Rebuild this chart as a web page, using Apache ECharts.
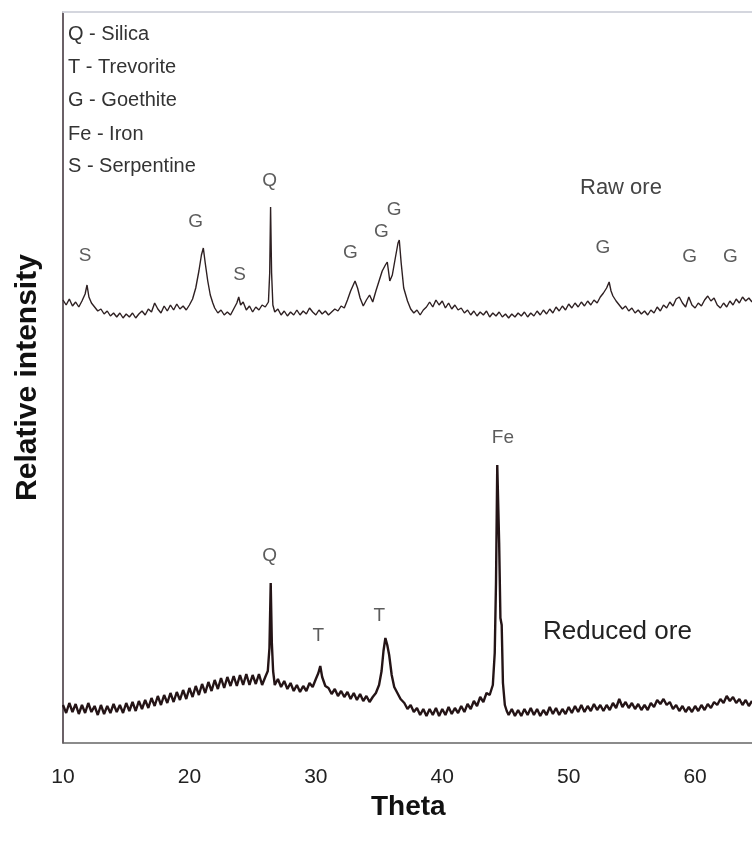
<!DOCTYPE html>
<html>
<head>
<meta charset="utf-8">
<script src="https://cdn.jsdelivr.net/npm/echarts@6/dist/echarts.min.js"></script>
<style>
  html, body { margin: 0; padding: 0; background: #fff; }
  #chart { width: 752px; height: 852px; }
</style>
</head>
<body>
<div id="chart"></div>
<script>
// XRD patterns, [theta, relative intensity]
var rawOre = [
  [10.0,443],[10.25,438],[10.5,444],[10.75,437],[11.0,441],[11.25,436],[11.5,442],[11.75,449],[11.9,458],[12.05,446],
  [12.25,440],[12.5,436],[12.75,432],[13.0,434],[13.25,429],[13.5,432],[13.75,427],[14.0,430],[14.25,426],[14.5,430],
  [14.75,425],[15.0,429],[15.25,426],[15.5,430],[15.75,425],[16.0,429],[16.25,432],[16.5,428],[16.75,434],[17.0,431],
  [17.25,440],[17.5,434],[17.75,430],[18.0,437],[18.25,432],[18.5,438],[18.75,433],[19.0,439],[19.25,434],[19.5,437],
  [19.75,433],[20.0,438],[20.25,444],[20.5,455],[20.75,472],[20.95,488],[21.1,495],[21.25,480],[21.45,462],[21.65,448],
  [21.85,440],[22.0,435],[22.25,430],[22.5,433],[22.75,428],[23.0,431],[23.25,428],[23.5,434],[23.75,440],[23.9,446],
  [24.05,438],[24.25,441],[24.5,433],[24.75,437],[25.0,431],[25.25,436],[25.5,433],[25.75,438],[26.0,436],[26.25,441],
  [26.35,470],[26.42,536],[26.5,470],[26.6,438],[26.75,431],[27.0,434],[27.25,428],[27.5,432],[27.75,427],[28.0,431],
  [28.25,428],[28.5,433],[28.75,428],[29.0,432],[29.25,429],[29.5,435],[29.75,431],[30.0,428],[30.25,433],[30.5,429],
  [30.75,432],[31.0,428],[31.25,431],[31.5,434],[31.75,432],[32.0,437],[32.25,435],[32.5,443],[32.75,452],[33.1,462],
  [33.3,455],[33.5,445],[33.75,437],[34.0,443],[34.25,448],[34.5,441],[34.75,452],[35.0,462],[35.25,472],[35.5,478],
  [35.65,481],[35.85,462],[36.05,468],[36.3,486],[36.5,500],[36.6,503],[36.75,480],[36.95,455],[37.25,442],[37.5,434],
  [37.75,430],[38.0,433],[38.25,428],[38.5,433],[38.75,436],[39.0,441],[39.25,436],[39.5,443],[39.75,438],[40.0,442],
  [40.25,435],[40.5,440],[40.75,434],[41.0,438],[41.25,433],[41.5,435],[41.75,430],[42.0,433],[42.25,428],[42.5,432],
  [42.75,427],[43.0,431],[43.25,428],[43.5,432],[43.75,426],[44.0,430],[44.25,427],[44.5,431],[44.75,426],[45.0,429],
  [45.25,425],[45.5,429],[45.75,426],[46.0,430],[46.25,427],[46.5,431],[46.75,426],[47.0,430],[47.25,427],[47.5,432],
  [47.75,428],[48.0,433],[48.25,429],[48.5,434],[48.75,430],[49.0,436],[49.25,432],[49.5,437],[49.75,433],[50.0,439],
  [50.25,435],[50.5,440],[50.75,436],[51.0,441],[51.25,437],[51.5,442],[51.75,438],[52.0,443],[52.25,440],[52.5,446],
  [52.75,450],[53.0,455],[53.2,461],[53.35,452],[53.5,447],[53.75,442],[54.0,438],[54.25,434],[54.5,437],[54.75,432],
  [55.0,435],[55.25,430],[55.5,433],[55.75,429],[56.0,432],[56.25,428],[56.5,433],[56.75,430],[57.0,436],[57.25,432],
  [57.5,438],[57.75,435],[58.0,441],[58.25,437],[58.5,444],[58.75,446],[59.0,440],[59.25,436],[59.5,446],[59.75,438],
  [60.0,435],[60.25,440],[60.5,437],[60.75,443],[61.0,447],[61.25,442],[61.5,445],[61.75,438],[62.0,435],[62.25,440],
  [62.5,436],[62.75,442],[63.0,438],[63.25,444],[63.5,440],[63.75,446],[64.0,442],[64.25,445],[64.5,441]
];

var reducedOre = [
  [10.0,38],[10.25,30],[10.5,40],[10.75,31],[11.0,39],[11.25,29],[11.5,38],[11.75,30],[12.0,40],[12.25,31],
  [12.5,37],[12.75,28],[13.0,38],[13.25,29],[13.5,37],[13.75,30],[14.0,39],[14.25,31],[14.5,38],[14.75,30],
  [15.0,40],[15.25,32],[15.5,41],[15.75,32],[16.0,42],[16.25,34],[16.5,43],[16.75,35],[17.0,45],[17.25,37],
  [17.5,47],[17.75,38],[18.0,48],[18.25,40],[18.5,50],[18.75,41],[19.0,51],[19.25,43],[19.5,53],[19.75,44],
  [20.0,55],[20.25,46],[20.5,57],[20.75,48],[21.0,59],[21.25,50],[21.5,61],[21.75,52],[22.0,63],[22.25,54],
  [22.5,65],[22.75,55],[23.0,66],[23.25,57],[23.5,67],[23.75,57],[24.0,68],[24.25,58],[24.5,69],[24.75,58],
  [25.0,68],[25.25,59],[25.5,69],[25.75,58],[26.0,66],[26.2,72],[26.33,95],[26.43,160],[26.52,100],[26.62,72],
  [26.75,58],[27.0,64],[27.25,56],[27.5,62],[27.75,54],[28.0,60],[28.25,52],[28.5,58],[28.75,51],[29.0,57],
  [29.25,52],[29.5,60],[29.75,56],[30.0,64],[30.2,70],[30.35,77],[30.5,66],[30.75,57],[31.0,55],[31.25,49],
  [31.5,54],[31.75,47],[32.0,52],[32.25,46],[32.5,51],[32.75,44],[33.0,50],[33.25,43],[33.5,49],[33.75,42],
  [34.0,47],[34.25,41],[34.5,46],[34.75,50],[35.0,58],[35.2,72],[35.35,92],[35.5,105],[35.65,98],[35.8,88],
  [36.0,68],[36.2,56],[36.45,50],[36.7,44],[37.0,40],[37.25,34],[37.5,38],[37.75,31],[38.0,35],[38.25,28],
  [38.5,34],[38.75,27],[39.0,34],[39.25,28],[39.5,35],[39.75,27],[40.0,34],[40.25,28],[40.5,36],[40.75,29],
  [41.0,35],[41.25,30],[41.5,37],[41.75,31],[42.0,39],[42.25,34],[42.5,42],[42.75,37],[43.0,46],[43.25,41],
  [43.5,50],[43.75,48],[44.0,58],[44.15,90],[44.25,160],[44.35,278],[44.42,279],[44.5,200],[44.6,125],[44.7,118],
  [44.8,60],[44.95,38],[45.1,32],[45.25,28],[45.5,34],[45.75,27],[46.0,33],[46.25,27],[46.5,34],[46.75,28],
  [47.0,35],[47.25,28],[47.5,34],[47.75,27],[48.0,33],[48.25,28],[48.5,36],[48.75,29],[49.0,35],[49.25,28],
  [49.5,34],[49.75,29],[50.0,36],[50.25,30],[50.5,37],[50.75,31],[51.0,38],[51.25,31],[51.5,37],[51.75,32],
  [52.0,39],[52.25,33],[52.5,38],[52.75,32],[53.0,38],[53.25,33],[53.5,40],[53.75,35],[54.0,44],[54.25,36],
  [54.5,41],[54.75,35],[55.0,40],[55.25,34],[55.5,39],[55.75,33],[56.0,38],[56.25,33],[56.5,40],[56.75,36],
  [57.0,43],[57.25,39],[57.5,44],[57.75,38],[58.0,41],[58.25,34],[58.5,38],[58.75,32],[59.0,37],[59.25,31],
  [59.5,36],[59.75,31],[60.0,37],[60.25,32],[60.5,38],[60.75,33],[61.0,39],[61.25,35],[61.5,41],[61.75,38],
  [62.0,44],[62.25,40],[62.5,47],[62.75,42],[63.0,46],[63.25,40],[63.5,44],[63.75,38],[64.0,43],[64.25,37],
  [64.5,42]
];

// peak letters: [theta, intensity, text]
var peakLabels = [
  [11.75,487,'S'],[20.5,521,'G'],[23.97,468,'S'],[26.34,562,'Q'],[32.73,490,'G'],
  [35.18,511,'G'],[36.2,533,'G'],[52.7,495,'G'],[59.57,486,'G'],[62.8,486,'G'],
  [26.34,187,'Q'],[30.2,107,'T'],[35.02,127,'T'],[44.8,305,'Fe']
];
var legendLines = ['Q - Silica','T - Trevorite','G - Goethite','Fe - Iron','S - Serpentine'];
var xTicks = [10, 64.5, 10]; // min, max, interval

var myChart = echarts.init(document.getElementById('chart'));

var legendGraphics = legendLines.map(function (t, i) {
  return {
    type: 'text', left: 68, top: [24, 57, 90, 124, 156][i],
    style: { text: t, fill: '#333', font: '20px "Liberation Sans", Arial, sans-serif' }
  };
});

option = {
  animation: false,
  backgroundColor: '#fff',
  grid: { left: 63, right: 0, top: 12, bottom: 109 },
  xAxis: [{
    type: 'value',
    min: xTicks[0], max: xTicks[1], interval: xTicks[2],
    axisLine: { lineStyle: { color: '#666', width: 1.5 } },
    axisTick: { show: false },
    splitLine: { show: false },
    axisLabel: { color: '#222', fontSize: 21, margin: 24, showMaxLabel: false,
      fontFamily: 'Liberation Sans' }
  }, {
    type: 'value', position: 'top',
    min: xTicks[0], max: xTicks[1],
    axisLine: { lineStyle: { color: '#d4d6de', width: 2 } },
    axisTick: { show: false }, axisLabel: { show: false }, splitLine: { show: false }
  }],
  yAxis: {
    type: 'value', min: 0, max: 731,
    name: 'Relative intensity', nameLocation: 'middle', nameGap: 20,
    nameTextStyle: { color: '#111', fontSize: 30, fontWeight: 'bold', fontFamily: 'Liberation Sans' },
    axisLine: { show: true, lineStyle: { color: '#3a2c35', width: 1.5 } },
    axisTick: { show: false }, axisLabel: { show: false }, splitLine: { show: false }
  },
  graphic: legendGraphics.concat([
    { type: 'text', left: 580, top: 177,
      style: { text: 'Raw ore', fill: '#444', font: '22px "Liberation Sans", Arial, sans-serif' } },
    { type: 'text', left: 543, top: 619,
      style: { text: 'Reduced ore', fill: '#222', font: '26px "Liberation Sans", Arial, sans-serif' } },
    { type: 'text', left: 371, top: 793,
      style: { text: 'Theta', fill: '#111', font: 'bold 28px "Liberation Sans", Arial, sans-serif' } }
  ]),
  series: [{
    name: 'Raw ore', type: 'line', data: rawOre,
    showSymbol: false, lineStyle: { color: '#2e2022', width: 1.4 }
  }, {
    name: 'Reduced ore', type: 'line', data: reducedOre,
    showSymbol: false, lineStyle: { color: '#241416', width: 2.4 }
  }, {
    type: 'scatter', data: peakLabels, symbolSize: 1,
    itemStyle: { color: 'rgba(0,0,0,0)' },
    label: {
      show: true, position: 'inside', color: '#333', fontSize: 19,
      fontFamily: 'Liberation Sans',
      formatter: function (p) { return p.value[2]; }
    }
  }]
};

myChart.setOption(option);
</script>
</body>
</html>
